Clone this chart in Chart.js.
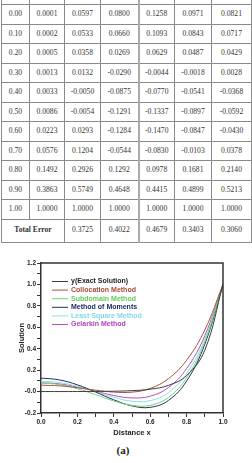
<!DOCTYPE html>
<html>
<head>
<meta charset="utf-8">
<script src="https://cdn.jsdelivr.net/npm/chart.js@4.4.0/dist/chart.umd.min.js"></script>
<style>
  body { margin: 0; width: 252px; height: 463px; background: #fff; position: relative; overflow: hidden; }
  #tbl { position: absolute; left: 1px; top: -16px; border-collapse: collapse; table-layout: fixed;
         font-family: "Liberation Serif", "Times New Roman", serif; font-size: 7.6px; color: #333; }
  #tbl td { border: 1px solid #8a8a8a; text-align: center; vertical-align: top; padding: 4px 0 0 0; height: 14.5px; line-height: 9px; }
  #tbl tr.head td { height: 15px; }
  #tbl tr.total td { height: 17px; padding-top: 5px; }
  #tbl td.thick { border-left: 2px solid #aaa; }
  #chartBox { position: absolute; left: 0; top: 255px; width: 252px; height: 185px; }
  #cap { position: absolute; left: 0; width: 246px; top: 444px; text-align: center;
         font-family: "Liberation Serif", serif; font-weight: bold; font-size: 11px; color: #222; }
</style>
</head>
<body>
<table id="tbl"></table>
<div id="chartBox"><canvas id="solChart" width="252" height="185"></canvas></div>
<div id="cap">(a)</div>
<script>
// valeurs lues dans le tableau
const xs = [0.00, 0.10, 0.20, 0.30, 0.40, 0.50, 0.60, 0.70, 0.80, 0.90, 1.00];
const exact = [0.0001, 0.0002, 0.0005, 0.0013, 0.0033, 0.0086, 0.0223, 0.0576, 0.1492, 0.3863, 1.0000];
const collocation = [0.0597, 0.0533, 0.0358, 0.0132, -0.0050, -0.0054, 0.0293, 0.1204, 0.2926, 0.5749, 1.0000];
const subdomain = [0.0800, 0.0660, 0.0269, -0.0290, -0.0875, -0.1291, -0.1284, -0.0544, 0.1292, 0.4648, 1.0000];
const moments = [0.1258, 0.1093, 0.0629, -0.0044, -0.0770, -0.1337, -0.1470, -0.0830, 0.0978, 0.4415, 1.0000];
const leastSquare = [0.0971, 0.0843, 0.0487, -0.0018, -0.0541, -0.0897, -0.0847, -0.0103, 0.1681, 0.4899, 1.0000];
const galerkin = [0.0821, 0.0717, 0.0429, 0.0028, -0.0368, -0.0592, -0.0430, 0.0378, 0.2140, 0.5213, 1.0000];
const totalError = [0.3725, 0.4022, 0.4679, 0.3403, 0.3060];

const seriesNames = ['y(Exact Solution)', 'Collocation Method', 'Subdomain Method', 'Method of Moments', 'Least Square Method', 'Gelarkin Method'];
const lineColors = ['#3c3c3c', '#a8523f', '#72d36a', '#222e6b', '#8ce0e4', '#b24fc0'];
const textColors = ['#1e1e1e', '#a64a3a', '#5fcc55', '#1f2a66', '#7fd9ea', '#a846b8'];

// tableau
const colW = [28, 35, 36, 38, 36, 37, 40];
const tbl = document.getElementById('tbl');
let cg = '<colgroup>' + colW.map(w => '<col style="width:' + w + 'px">').join('') + '</colgroup>';
let html = cg + '<tr class="head">' + colW.map((w, i) => '<td' + (i === 4 ? ' class="thick"' : '') + '></td>').join('') + '</tr>';
for (let i = 0; i < xs.length; i++) {
  const row = [xs[i].toFixed(2), exact[i], collocation[i], subdomain[i], moments[i], leastSquare[i], galerkin[i]];
  html += '<tr>' + row.map((v, j) => '<td' + (j === 4 ? ' class="thick"' : '') + '>' + (j === 0 ? v : v.toFixed(4)) + '</td>').join('') + '</tr>';
}
html += '<tr class="total"><td colspan="2" style="font-weight:bold">Total Error</td>' +
  totalError.map((v, j) => '<td' + (j === 2 ? ' class="thick"' : '') + '>' + v.toFixed(4) + '</td>').join('') + '</tr>';
tbl.innerHTML = html;

// graphique
const allSeries = [exact, collocation, subdomain, moments, leastSquare, galerkin];
const datasets = allSeries.map((s, k) => ({
  label: seriesNames[k],
  data: s.map((v, i) => ({ x: xs[i], y: v })),
  borderColor: lineColors[k],
  borderWidth: 1,
  pointRadius: 0,
  tension: 0.4,
  fill: false
}));

const boxAndLegend = {
  id: 'boxAndLegend',
  afterDraw(chart) {
    const { ctx, chartArea: a } = chart;
    ctx.save();
    ctx.strokeStyle = '#333';
    ctx.lineWidth = 1.5;
    ctx.beginPath();
    ctx.moveTo(a.left, a.top);
    ctx.lineTo(a.right, a.top);
    ctx.lineTo(a.right, a.bottom);
    ctx.stroke();
    // légende dans la zone du graphique
    ctx.font = 'bold 7px "Liberation Sans", Arial, sans-serif';
    ctx.textBaseline = 'middle';
    for (let k = 0; k < seriesNames.length; k++) {
      const y = a.top + 18.5 + k * 8.6;
      ctx.strokeStyle = lineColors[k];
      ctx.lineWidth = 1;
      ctx.beginPath();
      ctx.moveTo(a.left + 11, y);
      ctx.lineTo(a.left + 27, y);
      ctx.stroke();
      ctx.fillStyle = textColors[k];
      ctx.fillText(seriesNames[k], a.left + 30, y);
    }
    ctx.restore();
  }
};

const tickFont = { family: '"Liberation Sans", Arial, sans-serif', size: 6.5, weight: 'bold' };
const titleFont = { family: '"Liberation Sans", Arial, sans-serif', size: 7.5, weight: 'bold' };
const evenLabel = v => (Math.round(v * 10) % 2 === 0 ? v.toFixed(1) : '');

new Chart(document.getElementById('solChart'), {
  type: 'line',
  data: { datasets: datasets },
  options: {
    responsive: false,
    animation: false,
    devicePixelRatio: 1,
    layout: { padding: { top: 8, right: 29, left: 0, bottom: 0 } },
    plugins: { legend: { display: false }, tooltip: { enabled: false } },
    scales: {
      x: {
        type: 'linear', min: 0, max: 1,
        afterFit: s => { s.height = 27; },
        ticks: { stepSize: 0.1, callback: evenLabel, font: tickFont, color: '#222', padding: 1, maxRotation: 0, autoSkip: false },
        grid: { drawOnChartArea: false, tickLength: 4, tickColor: '#333', tickWidth: 1 },
        border: { color: '#333', width: 1.5 },
        title: { display: true, text: 'Distance x', font: titleFont, color: '#222', padding: { top: 0, bottom: 3 } }
      },
      y: {
        min: -0.2, max: 1.2,
        afterFit: s => { s.width = 41; },
        ticks: { stepSize: 0.1, callback: evenLabel, font: tickFont, color: '#222', padding: 1, autoSkip: false },
        grid: { drawOnChartArea: false, tickLength: 4, tickColor: '#333', tickWidth: 1 },
        border: { color: '#333', width: 1.5 },
        title: { display: true, text: 'Solution', font: titleFont, color: '#222', padding: { top: 17, bottom: 0 } }
      }
    }
  },
  plugins: [boxAndLegend]
});
</script>
</body>
</html>
